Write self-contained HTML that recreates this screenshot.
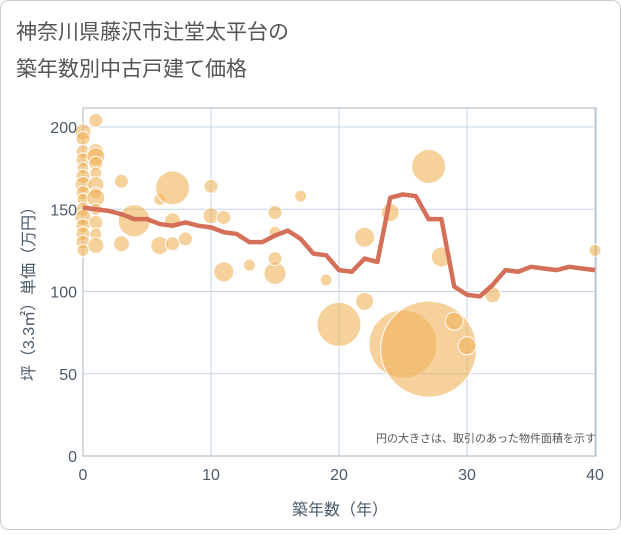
<!DOCTYPE html>
<html><head><meta charset="utf-8"><style>
body{margin:0;background:#fff;}
.wrap{position:relative;width:621px;height:530px;font-family:"Liberation Sans","Noto Sans CJK JP",sans-serif;}
</style></head><body>
<div class="wrap">
<svg id="chart" width="621" height="530" viewBox="0 0 621 530" xmlns="http://www.w3.org/2000/svg">
<rect x="0.5" y="0.5" width="620" height="529" rx="8" fill="#fff" stroke="#ccc"/>
<text x="16" y="39" font-size="21" fill="#555" font-family="Liberation Sans, Noto Sans CJK JP, sans-serif">神奈川県藤沢市辻堂太平台の</text>
<text x="16" y="76" font-size="21" fill="#555" font-family="Liberation Sans, Noto Sans CJK JP, sans-serif">築年数別中古戸建て価格</text>
<g id="grid"></g><g id="bubbles"></g><g id="line"></g><g id="axes"></g>
<text x="596" y="442" font-size="11" fill="#555" text-anchor="end" font-family="Liberation Sans, Noto Sans CJK JP, sans-serif">円の大きさは、取引のあった物件面積を示す</text>
<text x="340" y="515" font-size="16" fill="#4a5a6a" text-anchor="middle" font-family="Liberation Sans, Noto Sans CJK JP, sans-serif">築年数（年）</text>
<text transform="translate(34,290) rotate(-90)" font-size="16" fill="#4a5a6a" text-anchor="middle" font-family="Liberation Sans, Noto Sans CJK JP, sans-serif">坪（3.3㎡）単価（万円）</text>
</svg>
</div>
<script>
const xTicks=[0,10,20,30,40];
const yTicks=[0,50,100,150,200];
const lineYears=[0,1,2,3,4,5,6,7,8,9,10,11,12,13,14,15,16,17,18,19,20,21,22,23,24,25,26,27,28,29,30,31,32,33,34,35,36,37,38,39,40];
const lineValues=[151,150,149,147,144,144,141,140,142,140,139,136,135,130,130,134,137,132,123,122,113,112,120,118,157,159,158,144,144,103,98,97,104,113,112,115,114,113,115,114,113];
const bubbleYears=[0,0,0,0,0,0,0,0,0,0,0,0,0,0,0,1,1,1,1,1,1,1,1,1,1,1,1,3,3,4,6,6,7,7,7,8,10,10,11,11,13,15,15,15,15,17,19,20,22,22,24,25,27,27,28,29,30,32,40];
const bubbleValues=[197,193,185,180,175,170,165,160,156,150,145,140,135,130,125,204,185,182,178,172,165,160,157,150,142,135,128,167,129,143,156,128,163,143,129,132,164,146,145,112,116,111,120,148,136,158,107,80,133,94,148,68,65,176,121,82,67,98,125];
const bubbleSizes=[8,7,7,7,6,7,8,7,6,7,8,7,7,7,6,7,8,9,7,6,8,6,9,6,7,6,8,7,8,16,6,9,17,8,7,7,7,8,7,10,6,11,7,7,6,6,6,22,10,9,9,34,48,17,10,9,9,8,6];
const NS="http://www.w3.org/2000/svg";
const X0=83,X1=596,Y0=456,Y1=108;
const sx=v=>X0+v/40*(X1-X0-1);
const sy=v=>Y0-v*1.645;
function mk(t,a,p){const e=document.createElementNS(NS,t);for(const k in a)e.setAttribute(k,a[k]);p.appendChild(e);return e;}
const grid=document.getElementById('grid'),axes=document.getElementById('axes');
xTicks.forEach(t=>{
 const l=mk('line',{x1:sx(t),x2:sx(t),y1:Y1,y2:Y0,stroke:t===0?'#8a9aaa':'#c5d4e3','stroke-width':1},grid);
 
 
 const tx=mk('text',{x:sx(t),y:Y0+24,'font-size':16,fill:'#4a5a6a','text-anchor':'middle'},axes);
 tx.textContent=t;
 
 
});
yTicks.forEach(t=>{
 const l=mk('line',{x1:X0,x2:X1,y1:sy(t),y2:sy(t),stroke:t===0?'#8a9aaa':'#c5d4e3','stroke-width':1},grid);
 
 
 const tx=mk('text',{x:X0-6,y:sy(t)+6,'font-size':16,fill:'#4a5a6a','text-anchor':'end'},axes);
 tx.textContent=t;
 
 
});
const fr=mk('rect',{x:X0,y:Y1,width:X1-X0,height:Y0-Y1,fill:'none',stroke:'#aab4be'},grid);


const bg=document.getElementById('bubbles');
bubbleYears.forEach((yr,i)=>{
 const c=mk('circle',{cx:sx(yr),cy:sy(bubbleValues[i]),r:bubbleSizes[i],fill:'rgba(240,178,90,0.6)',stroke:'#fff','stroke-width':1},bg);
 
 
});
const pts=lineYears.map((y,i)=>sx(y)+','+sy(lineValues[i])).join(' ');
const pl=mk('polyline',{points:pts,fill:'none',stroke:'#d4705a','stroke-width':4.5,'stroke-linejoin':'round'},document.getElementById('line'));


</script>
</body></html>
